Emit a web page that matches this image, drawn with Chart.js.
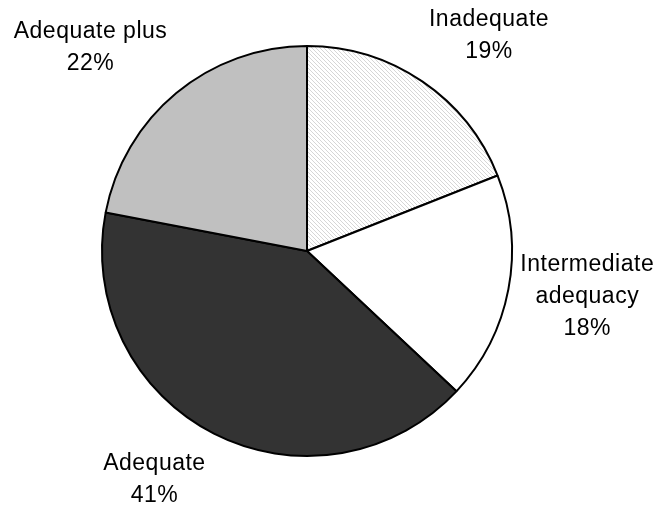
<!DOCTYPE html>
<html>
<head>
<meta charset="utf-8">
<script src="https://cdn.jsdelivr.net/npm/chart.js@4"></script>
<style>
  html, body { margin: 0; padding: 0; background: #fff; }
  #wrap { width: 658px; height: 508px; }
</style>
</head>
<body>
<div id="wrap"><canvas id="adequacy-pie" width="658" height="508"></canvas></div>
<script>
const categories = ["Inadequate", "Intermediate adequacy", "Adequate", "Adequate plus"];
const shares = [19, 18, 41, 22];
const labelLines = [["Inadequate"], ["Intermediate", "adequacy"], ["Adequate"], ["Adequate plus"]];

function makeHatch() {
  const tile = document.createElement("canvas");
  tile.width = 4;
  tile.height = 4;
  const ctx = tile.getContext("2d");
  ctx.fillStyle = "#fff";
  ctx.fillRect(0, 0, 4, 4);
  ctx.strokeStyle = "#d6d6d6";
  ctx.lineWidth = 1;
  ctx.beginPath();
  ctx.moveTo(-1, -1);
  ctx.lineTo(5, 5);
  ctx.stroke();
  return ctx.createPattern(tile, "repeat");
}

// angle nudge (deg) and distance (px) of each label from the pie centre
const labelPlacement = [
  { nudge: 6, dist: 282 },
  { nudge: -1.5, dist: 284 },
  { nudge: 6.7, dist: 275 },
  { nudge: -7.2, dist: 297 },
];

const outsideLabels = {
  id: "outsideLabels",
  afterDatasetsDraw(chart) {
    const ctx = chart.ctx;
    const arcs = chart.getDatasetMeta(0).data;
    ctx.save();
    ctx.fillStyle = "#000";
    ctx.font = "23px 'Liberation Sans', Arial, sans-serif";
    ctx.letterSpacing = "0.5px";
    ctx.textAlign = "center";
    ctx.textBaseline = "middle";
    arcs.forEach((arc, i) => {
      const { x, y, startAngle, endAngle } = arc.getProps(["x", "y", "startAngle", "endAngle"], true);
      const place = labelPlacement[i];
      const mid = (startAngle + endAngle) / 2 + (place.nudge * Math.PI) / 180;
      const cx = x + Math.cos(mid) * place.dist;
      const cy = y + Math.sin(mid) * place.dist;
      const lines = labelLines[i].concat([shares[i] + "%"]);
      const lh = 32;
      lines.forEach((line, j) => {
        ctx.fillText(line, cx, cy + (j - (lines.length - 1) / 2) * lh);
      });
    });
    ctx.restore();
  },
};

new Chart(document.getElementById("adequacy-pie"), {
  type: "pie",
  data: {
    labels: categories,
    datasets: [
      {
        data: shares,
        backgroundColor: [makeHatch(), "#ffffff", "#333333", "#c0c0c0"],
        borderColor: "#000",
        borderWidth: 2,
      },
    ],
  },
  options: {
    responsive: false,
    animation: false,
    layout: { padding: { top: 45, bottom: 51, left: 101, right: 145 } },
    plugins: {
      legend: { display: false },
      tooltip: { enabled: false },
    },
  },
  plugins: [outsideLabels],
});
</script>
</body>
</html>
